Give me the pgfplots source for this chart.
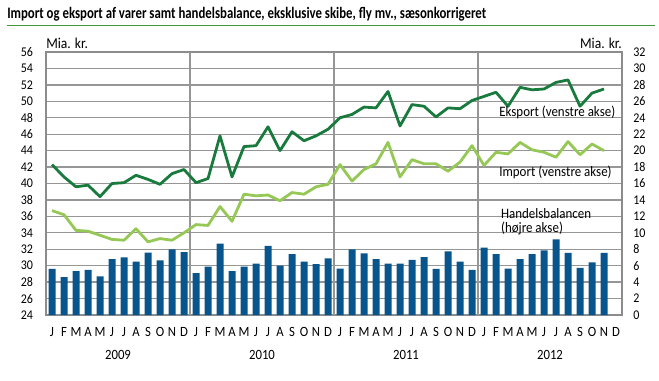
\documentclass[border=0pt]{standalone}
\usepackage{pgfplots}
\usepackage{pgfplotstable}
\usepackage{fontspec}
\pgfplotsset{compat=1.18}
\setmainfont{Carlito}[FakeStretch=0.9]
\newfontfamily\titlefont{Carlito}[FakeStretch=0.8]
\definecolor{eksp}{RGB}{25,122,62}
\definecolor{imp}{RGB}{150,200,85}
\definecolor{bal}{RGB}{8,84,140}
\definecolor{rulegreen}{RGB}{70,150,60}
\definecolor{gridgray}{RGB}{150,150,150}
\definecolor{framegray}{RGB}{140,140,140}

\pgfplotstableread{
x exp imp bal
0 42.3 36.7 5.6
1 40.8 36.2 4.6
2 39.6 34.3 5.35
3 39.8 34.2 5.5
4 38.4 33.7 4.7
5 40.0 33.2 6.8
6 40.1 33.1 7.0
7 41.0 34.5 6.5
8 40.5 32.9 7.6
9 39.9 33.3 6.65
10 41.2 33.1 8.0
11 41.7 34.0 7.65
12 40.1 35.0 5.1
13 40.6 34.9 5.9
14 45.8 37.2 8.7
15 40.8 35.4 5.35
16 44.5 38.7 5.9
17 44.6 38.5 6.25
18 46.9 38.6 8.4
19 44.0 37.9 6.0
20 46.3 38.9 7.4
21 45.2 38.7 6.5
22 45.8 39.6 6.2
23 46.6 39.9 6.9
24 48.0 42.3 5.65
25 48.4 40.3 8.0
26 49.3 41.7 7.5
27 49.2 42.4 6.8
28 51.2 45.0 6.25
29 47.0 40.8 6.25
30 49.6 42.9 6.7
31 49.4 42.4 7.05
32 48.1 42.4 5.6
33 49.2 41.5 7.75
34 49.1 42.6 6.5
35 50.1 44.6 5.5
36 50.6 42.2 8.2
37 51.1 43.8 7.4
38 49.4 43.6 5.65
39 51.7 45.0 6.8
40 51.4 44.1 7.4
41 51.5 43.8 7.85
42 52.3 43.2 9.2
43 52.6 45.1 7.55
44 49.4 43.5 5.75
45 51.0 44.8 6.4
46 51.5 44.0 7.55
}\datatable

\pgfplotsset{
  base/.style={
    scale only axis, width=432pt, height=197.25pt,
    at={(34.5pt,48.75pt)}, anchor=south west,
    xmin=-0.5, xmax=47.5,
    major tick length=0pt,
    /pgf/number format/assume math mode=true,
    tick label style={font=\fontsize{10}{12}\selectfont},
  }
}

\begin{document}
\begin{tikzpicture}
\useasboundingbox (0,0) rectangle (494.25pt,285pt);
% title and rule
\node[anchor=west, inner sep=0pt, font=\titlefont\fontsize{12}{14}\selectfont\bfseries] at (5.25pt,274.5pt)
  {Import og eksport af varer samt handelsbalance, eksklusive skibe, fly mv., sæsonkorrigeret};
\draw[rulegreen, line width=1.2pt] (5.25pt,266pt) -- (491.25pt,266pt);
\node[anchor=west, inner sep=0pt, font=\fontsize{11.3}{13}\selectfont] at (34.5pt,252.75pt) {Mia. kr.};
\node[anchor=east, inner sep=0pt, font=\fontsize{11.3}{13}\selectfont] at (466.5pt,252.75pt) {Mia. kr.};

% background axis: grid, frame, left ticks, months
\begin{axis}[base,
  ymin=24, ymax=56,
  ytick={24,26,...,56},
  xtick={0,...,47},
  xticklabels={J,F,M,A,M,J,J,A,S,O,N,D,J,F,M,A,M,J,J,A,S,O,N,D,J,F,M,A,M,J,J,A,S,O,N,D,J,F,M,A,M,J,J,A,S,O,N,D},
  xticklabel style={anchor=base, inner sep=0pt, yshift=-16.3pt, font=\fontsize{10.6}{12}\selectfont},
  yticklabel style={anchor=east, inner xsep=0pt, xshift=-9.5pt},
  ymajorgrids,
  grid style={gridgray, line width=1pt},
  extra x ticks={11.5,23.5,35.5},
  extra x tick labels={},
  extra x tick style={xmajorgrids=true, major tick length=0pt},
  axis line style={framegray, line width=1.1pt},
  clip=false,
]
\addplot[draw=none] coordinates {(0,30)};
\node[anchor=base, font=\fontsize{10.6}{12}\selectfont] at (axis cs:5.5,24) [yshift=-33.4pt] {2009};
\node[anchor=base, font=\fontsize{10.6}{12}\selectfont] at (axis cs:17.5,24) [yshift=-33.4pt] {2010};
\node[anchor=base, font=\fontsize{10.6}{12}\selectfont] at (axis cs:29.5,24) [yshift=-33.4pt] {2011};
\node[anchor=base, font=\fontsize{10.6}{12}\selectfont] at (axis cs:41.5,24) [yshift=-33.4pt] {2012};
\end{axis}

% right axis: bars
\begin{axis}[base,
  ymin=0, ymax=32,
  axis y line*=right, axis x line=none,
  y axis line style={draw=none},
  ytick={0,2,...,32},
  yticklabel style={anchor=west, inner xsep=0pt, xshift=8.25pt},
]
\addplot[ybar, bar width=5.25pt, bar shift=0pt, fill=bal, draw=none] table[x=x, y=bal] {\datatable};
\end{axis}

% left axis: lines and labels
\begin{axis}[base,
  ymin=24, ymax=56, hide axis, clip=false,
]
\addplot[eksp, line width=2.1pt, line join=round] table[x=x, y=exp] {\datatable};
\addplot[imp, line width=2.1pt, line join=round] table[x=x, y=imp] {\datatable};
\node[anchor=west, inner sep=0pt, font=\fontsize{10.8}{12}\selectfont] at (axis cs:37.25,48.6) {Eksport (venstre akse)};
\node[anchor=west, inner sep=0pt, font=\fontsize{10.8}{12}\selectfont] at (axis cs:37.25,41.4) {Import (venstre akse)};
\node[anchor=west, inner sep=0pt, font=\fontsize{10.8}{12}\selectfont] at (axis cs:37.4,36.4) {Handelsbalancen};
\node[anchor=west, inner sep=0pt, font=\fontsize{10.8}{12}\selectfont] at (axis cs:37.4,34.5) {(højre akse)};
\end{axis}
\end{tikzpicture}
\end{document}
